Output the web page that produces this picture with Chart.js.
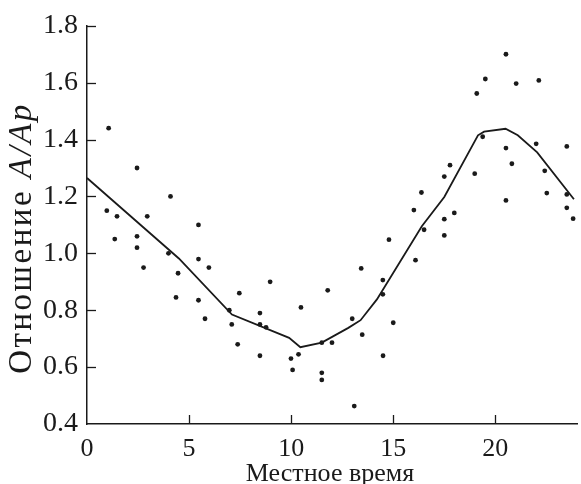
<!DOCTYPE html>
<html>
<head>
<meta charset="utf-8">
<script src="https://cdn.jsdelivr.net/npm/chart.js@4.4.1/dist/chart.umd.min.js"></script>
<style>
  html, body { margin: 0; padding: 0; background: #fff; }
  #wrap { width: 581px; height: 484px; }
</style>
</head>
<body>
<div id="wrap"><canvas id="ratioChart" width="581" height="484"></canvas></div>
<script>
// Individual measurements: local hour and A/Ap ratio
const hoursObs = [
  1.06, 2.45, 4.09, 0.97, 1.47, 2.95, 5.46, 1.36, 2.45, 2.45,
  3.99, 5.46, 2.77, 5.97, 4.46, 7.46, 4.36, 5.46, 8.97, 11.79,
  8.47, 10.48, 6.97, 5.78, 7.09, 8.47, 8.77, 7.38, 8.47, 9.99,
  10.36, 10.07, 11.50, 12.00, 11.50, 11.50, 12.99, 15.00, 13.48, 14.50,
  13.09, 19.38, 20.52, 22.00, 23.50, 17.78, 20.81, 17.50, 18.99, 22.42,
  16.38, 22.52, 23.50, 20.52, 16.01, 17.99, 17.50, 23.50, 23.81, 16.51,
  17.50, 14.79, 16.09, 14.49, 14.49, 20.52, 19.51, 21.02, 22.13, 19.09,
  13.43
];
const ratioObs = [
  1.44, 1.30, 1.20, 1.15, 1.13, 1.13, 1.10, 1.05, 1.06, 1.02,
  1.00, 0.98, 0.95, 0.95, 0.93, 0.86, 0.845, 0.835, 0.90, 0.87,
  0.79, 0.81, 0.80, 0.77, 0.75, 0.75, 0.74, 0.68, 0.64, 0.63,
  0.645, 0.59, 0.686, 0.686, 0.58, 0.555, 0.77, 0.756, 0.714, 0.64,
  0.463, 1.41, 1.37, 1.385, 1.376, 1.31, 1.315, 1.27, 1.28, 1.29,
  1.214, 1.212, 1.207, 1.186, 1.152, 1.142, 1.12, 1.16, 1.122, 1.083,
  1.063, 1.048, 0.976, 0.906, 0.856, 1.70, 1.613, 1.597, 1.608, 1.562,
  0.947
];

// Smoothed mean curve
const hoursMean = [0, 4.5, 7.1, 9.9, 10.45, 11.5, 12.8, 13.4, 14.2, 16.4, 17.5, 19.15, 19.45, 20.5, 21.1, 22.05, 23.85];
const ratioMean = [1.265, 0.982, 0.785, 0.703, 0.670, 0.686, 0.738, 0.765, 0.838, 1.095, 1.198, 1.415, 1.428, 1.438, 1.415, 1.355, 1.19];

const xTicks = [0, 5, 10, 15, 20];
const yTicks = [0.4, 0.6, 0.8, 1.0, 1.2, 1.4, 1.6, 1.8];

const ink = '#1a1a1a';
const serif = "'Liberation Serif', 'DejaVu Serif', serif";

const toXY = (xs, ys) => xs.map((x, i) => ({ x: x, y: ys[i] }));

// inward tick marks + both axis titles (y title has an italic part)
const axisDecor = {
  id: 'axisDecor',
  afterDraw(chart) {
    const ctx = chart.ctx;
    const xs = chart.scales.x, ys = chart.scales.y;
    const area = chart.chartArea;
    ctx.save();
    ctx.strokeStyle = ink;
    ctx.lineWidth = 1.3;
    xTicks.forEach(v => {
      if (v === xs.min) return;
      const px = Math.round(xs.getPixelForValue(v)) + 0.5;
      ctx.beginPath();
      ctx.moveTo(px, area.bottom);
      ctx.lineTo(px, area.bottom - 9);
      ctx.stroke();
    });
    yTicks.forEach(v => {
      if (v === ys.min) return;
      const py = Math.round(ys.getPixelForValue(v)) + 0.5;
      ctx.beginPath();
      ctx.moveTo(area.left, py);
      ctx.lineTo(area.left + 9, py);
      ctx.stroke();
    });

    ctx.fillStyle = ink;
    ctx.textBaseline = 'alphabetic';

    // x title
    ctx.font = '26px ' + serif;
    ctx.textAlign = 'center';
    ctx.fillText('Местное время', 330, 481);

    // y title, rotated, slightly tracked out
    const plain = 'Отношение ';
    const ital = 'A/Ap';
    ctx.letterSpacing = '2.5px';
    ctx.font = '33px ' + serif;
    const w1 = ctx.measureText(plain).width;
    ctx.font = 'italic 33px ' + serif;
    const w2 = ctx.measureText(ital).width;
    ctx.translate(31, 238);
    ctx.rotate(-Math.PI / 2);
    ctx.textAlign = 'left';
    const x0 = -(w1 + w2) / 2;
    ctx.font = '33px ' + serif;
    ctx.fillText(plain, x0, 0);
    ctx.font = 'italic 33px ' + serif;
    ctx.fillText(ital, x0 + w1, 0);
    ctx.restore();
  }
};

new Chart(document.getElementById('ratioChart'), {
  type: 'scatter',
  data: {
    datasets: [
      {
        label: 'observations',
        data: toXY(hoursObs, ratioObs),
        backgroundColor: ink,
        borderColor: ink,
        pointRadius: 2.4,
        pointBorderWidth: 0
      },
      {
        label: 'mean',
        data: toXY(hoursMean, ratioMean),
        showLine: true,
        borderColor: ink,
        borderWidth: 1.8,
        pointRadius: 0,
        tension: 0
      }
    ]
  },
  options: {
    responsive: false,
    devicePixelRatio: 1,
    animation: false,
    layout: { padding: { top: 22, right: 1, left: 0, bottom: 0 } },
    plugins: {
      legend: { display: false },
      tooltip: { enabled: false }
    },
    scales: {
      x: {
        type: 'linear',
        min: 0,
        max: 24,
        afterBuildTicks: s => { s.ticks = xTicks.map(v => ({ value: v })); },
        afterFit: s => { s.height = 60; },
        grid: { display: false, drawTicks: false },
        border: { display: true, color: ink, width: 1.5 },
        ticks: {
          color: ink,
          padding: 10,
          maxRotation: 0,
          font: { family: serif, size: 26 }
        }
      },
      y: {
        min: 0.4,
        max: 1.8,
        afterBuildTicks: s => { s.ticks = yTicks.map(v => ({ value: v })); },
        afterFit: s => { s.width = 87; },
        grid: { display: false, drawTicks: false },
        border: { display: true, color: ink, width: 1.5 },
        ticks: {
          color: ink,
          padding: 9,
          font: { family: serif, size: 28 },
          callback: v => v.toFixed(1)
        }
      }
    }
  },
  plugins: [axisDecor]
});
</script>
</body>
</html>
